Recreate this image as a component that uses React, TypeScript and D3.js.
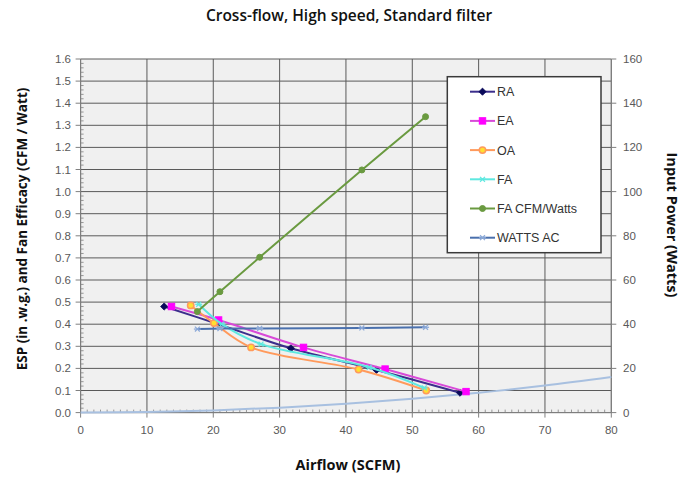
import React from "react";
import * as d3 from "d3";

const W = 697;
const H = 479;

const titleText = "Cross-flow, High speed, Standard filter";
const xTitle = "Airflow (SCFM)";
const yTitle = "ESP (in .w.g.) and Fan Efficacy (CFM / Watt)";
const y2Title = "Input Power (Watts)";

const xTicks = [0, 10, 20, 30, 40, 50, 60, 70, 80];
const yTicks = [0, 0.1, 0.2, 0.3, 0.4, 0.5, 0.6, 0.7, 0.8, 0.9, 1.0, 1.1, 1.2, 1.3, 1.4, 1.5, 1.6];
const y2Ticks = [0, 20, 40, 60, 80, 100, 120, 140, 160];

// ESP series (in. w.g.) vs airflow
const raX = [12.6, 20.8, 31.7, 44.6, 57.2];
const raY = [0.48, 0.4, 0.291, 0.193, 0.09];
const eaX = [13.7, 20.8, 33.6, 45.9, 58.1];
const eaY = [0.48, 0.419, 0.295, 0.197, 0.095];
const oaX = [16.6, 20.1, 25.7, 41.9, 52.1];
const oaY = [0.485, 0.405, 0.295, 0.195, 0.1];
const faX = [17.8, 21.3, 27.2, 43.5, 51.8];
const faY = [0.49, 0.4, 0.31, 0.205, 0.112];
// Fan efficacy (CFM/Watt)
const effX = [17.6, 21.0, 27.0, 42.4, 52.0];
const effY = [0.457, 0.547, 0.703, 1.098, 1.339];
// Input power (Watts), right axis
const wattsX = [17.6, 21.0, 27.0, 42.4, 52.0];
const wattsY = [37.8, 38.0, 38.1, 38.3, 38.6];
// System curve (unlabelled)
const sysX = [0, 10, 20, 30, 40, 50, 60, 70, 80];
const sysY = [0, 0.0025, 0.01, 0.0225, 0.04, 0.0625, 0.09, 0.1225, 0.161];

const legendNames = ["RA", "EA", "OA", "FA", "FA CFM/Watts", "WATTS AC"];

const x = d3.scaleLinear().domain([0, 80]).range([80.6, 611.3]);
const y = d3.scaleLinear().domain([0, 1.6]).range([412.6, 59]);
const y2 = d3.scaleLinear().domain([0, 160]).range([412.6, 59]);

type Series = {
  name: string;
  xs: number[];
  ys: number[];
  axis: "left" | "right";
  line: string;
  marker: string;
  markerFill: string;
  markerStroke: string;
  width: number;
};

const series: Series[] = [
  { name: legendNames[0], xs: raX, ys: raY, axis: "left", line: "#3b2e8c", marker: "diamond", markerFill: "#0a0a5a", markerStroke: "#0a0a5a", width: 2 },
  { name: legendNames[1], xs: eaX, ys: eaY, axis: "left", line: "#d84ad8", marker: "square", markerFill: "#ff00ff", markerStroke: "#ff00ff", width: 2 },
  { name: legendNames[2], xs: oaX, ys: oaY, axis: "left", line: "#ff9a5c", marker: "circle", markerFill: "#ffe030", markerStroke: "#ff9a5c", width: 2 },
  { name: legendNames[3], xs: faX, ys: faY, axis: "left", line: "#5ee8e0", marker: "star", markerFill: "#5ee8e0", markerStroke: "#5ee8e0", width: 2 },
  { name: legendNames[4], xs: effX, ys: effY, axis: "left", line: "#6a9a40", marker: "dot", markerFill: "#6a9a40", markerStroke: "#6a9a40", width: 2 },
  { name: legendNames[5], xs: wattsX, ys: wattsY, axis: "right", line: "#4a70ad", marker: "star", markerFill: "#8aa8d8", markerStroke: "#8aa8d8", width: 2 },
];

function Marker({ kind, cx, cy, fill, stroke }: { kind: string; cx: number; cy: number; fill: string; stroke: string }) {
  if (kind === "diamond") {
    const s = 3.6;
    return <path d={`M${cx},${cy - s}L${cx + s},${cy}L${cx},${cy + s}L${cx - s},${cy}Z`} fill={fill} stroke={stroke} strokeWidth={0.8} />;
  }
  if (kind === "square") {
    return <rect x={cx - 3.2} y={cy - 3.2} width={6.4} height={6.4} fill={fill} stroke={stroke} />;
  }
  if (kind === "circle") {
    return <circle cx={cx} cy={cy} r={3.2} fill={fill} stroke={stroke} strokeWidth={1.5} />;
  }
  if (kind === "dot") {
    return <circle cx={cx} cy={cy} r={3} fill={fill} stroke={stroke} />;
  }
  // star / asterisk
  const s = 3.5;
  return (
    <g stroke={stroke} strokeWidth={1.2}>
      <line x1={cx - s} y1={cy} x2={cx + s} y2={cy} />
      <line x1={cx - s * 0.7} y1={cy - s * 0.7} x2={cx + s * 0.7} y2={cy + s * 0.7} />
      <line x1={cx - s * 0.7} y1={cy + s * 0.7} x2={cx + s * 0.7} y2={cy - s * 0.7} />
    </g>
  );
}

export default function App() {
  const line = d3
    .line<[number, number]>()
    .x((d) => d[0])
    .y((d) => d[1])
    .curve(d3.curveCatmullRom.alpha(0.5));

  const tickFont = "'Liberation Sans', Arial, sans-serif";
  const titleFont = "'Open Sans', 'Noto Sans', sans-serif";

  const minorX = d3.range(0, 81, 1).filter((v) => v % 10 !== 0);
  const minorY = d3.range(0, 161, 2).map((v) => v / 100).filter((_, i) => i % 5 !== 0);

  const legendRowY = (i: number) => 91.7 + i * 29.2;

  return (
    <svg width={W} height={H} style={{ position: "absolute", left: 0, top: 0, background: "#fff" }}>
      <text x={349} y={21} textAnchor="middle" fontFamily={titleFont} fontWeight={600} fontSize={15.5} fill="#111">
        {titleText}
      </text>

      {/* plot area */}
      <rect x={x(0)} y={y(1.6)} width={x(80) - x(0)} height={y(0) - y(1.6)} fill="#f0f0f0" />

      {/* grid */}
      {yTicks.map((t) => (
        <line key={"gy" + t} x1={x(0)} x2={x(80)} y1={y(t)} y2={y(t)} stroke="#5a5a5a" strokeWidth={1} />
      ))}
      {xTicks.map((t) => (
        <line key={"gx" + t} x1={x(t)} x2={x(t)} y1={y(0)} y2={y(1.6)} stroke="#5a5a5a" strokeWidth={1} />
      ))}

      {/* axes */}
      <line x1={x(0)} x2={x(0)} y1={y(0)} y2={y(1.6)} stroke="#808080" strokeWidth={1} />
      <line x1={x(80)} x2={x(80)} y1={y(0)} y2={y(1.6)} stroke="#808080" strokeWidth={1} />
      <line x1={x(0)} x2={x(80)} y1={y(0)} y2={y(0)} stroke="#808080" strokeWidth={1} />

      {yTicks.map((t) => (
        <g key={"ly" + t}>
          <line x1={x(0) - 5} x2={x(0)} y1={y(t)} y2={y(t)} stroke="#808080" />
          <text x={71} y={y(t) + 4} textAnchor="end" fontFamily={tickFont} fontSize={11.5} fill="#595959">
            {d3.format(".1f")(t)}
          </text>
        </g>
      ))}
      {minorY.map((t) => (
        <line key={"my" + t} x1={x(0)} x2={x(0) + 3} y1={y(t)} y2={y(t)} stroke="#808080" strokeWidth={0.8} />
      ))}
      {xTicks.map((t) => (
        <g key={"lx" + t}>
          <line x1={x(t)} x2={x(t)} y1={y(0)} y2={y(0) + 5} stroke="#808080" />
          <text x={x(t)} y={434} textAnchor="middle" fontFamily={tickFont} fontSize={11.5} fill="#595959">
            {t}
          </text>
        </g>
      ))}
      {minorX.map((t) => (
        <line key={"mx" + t} x1={x(t)} x2={x(t)} y1={y(0)} y2={y(0) - 3} stroke="#808080" strokeWidth={0.8} />
      ))}
      {y2Ticks.map((t) => (
        <g key={"ly2" + t}>
          <line x1={x(80)} x2={x(80) + 5} y1={y2(t)} y2={y2(t)} stroke="#808080" />
          <text x={623} y={y2(t) + 4} textAnchor="start" fontFamily={tickFont} fontSize={11.5} fill="#595959">
            {t}
          </text>
        </g>
      ))}

      {/* system curve */}
      <path
        d={line(sysX.map((v, i) => [x(v), y(sysY[i])] as [number, number])) || ""}
        fill="none"
        stroke="#a8c0e0"
        strokeWidth={2}
      />

      {/* series */}
      {series.map((s) => {
        const sc = s.axis === "left" ? y : y2;
        const pts = s.xs.map((v, i) => [x(v), sc(s.ys[i])] as [number, number]);
        return (
          <g key={s.name}>
            <path d={line(pts) || ""} fill="none" stroke={s.line} strokeWidth={s.width} />
            {pts.map((p, i) => (
              <Marker key={i} kind={s.marker} cx={p[0]} cy={p[1]} fill={s.markerFill} stroke={s.markerStroke} />
            ))}
          </g>
        );
      })}

      {/* legend */}
      <rect x={447.3} y={76.7} width={153.7} height={176} fill="#fff" stroke="#3a3a3a" strokeWidth={1.5} />
      {series.map((s, i) => {
        const ly = legendRowY(i);
        return (
          <g key={"lg" + s.name}>
            <line x1={470} x2={495} y1={ly} y2={ly} stroke={s.line} strokeWidth={2} />
            <Marker kind={s.marker} cx={482.5} cy={ly} fill={s.markerFill} stroke={s.markerStroke} />
            <text x={497} y={ly + 4.5} fontFamily={tickFont} fontSize={12.5} fill="#333">
              {s.name}
            </text>
          </g>
        );
      })}

      {/* axis titles */}
      <text x={348} y={470} textAnchor="middle" fontFamily={titleFont} fontWeight={700} fontSize={14.5} fill="#111">
        {xTitle}
      </text>
      <text
        transform={`translate(27,229) rotate(-90)`}
        textAnchor="middle"
        fontFamily={titleFont}
        fontWeight={700}
        fontSize={13.5}
        fill="#111"
      >
        {yTitle}
      </text>
      <text
        transform={`translate(667,225) rotate(90)`}
        textAnchor="middle"
        fontFamily={titleFont}
        fontWeight={700}
        fontSize={14.5}
        fill="#111"
      >
        {y2Title}
      </text>
    </svg>
  );
}
